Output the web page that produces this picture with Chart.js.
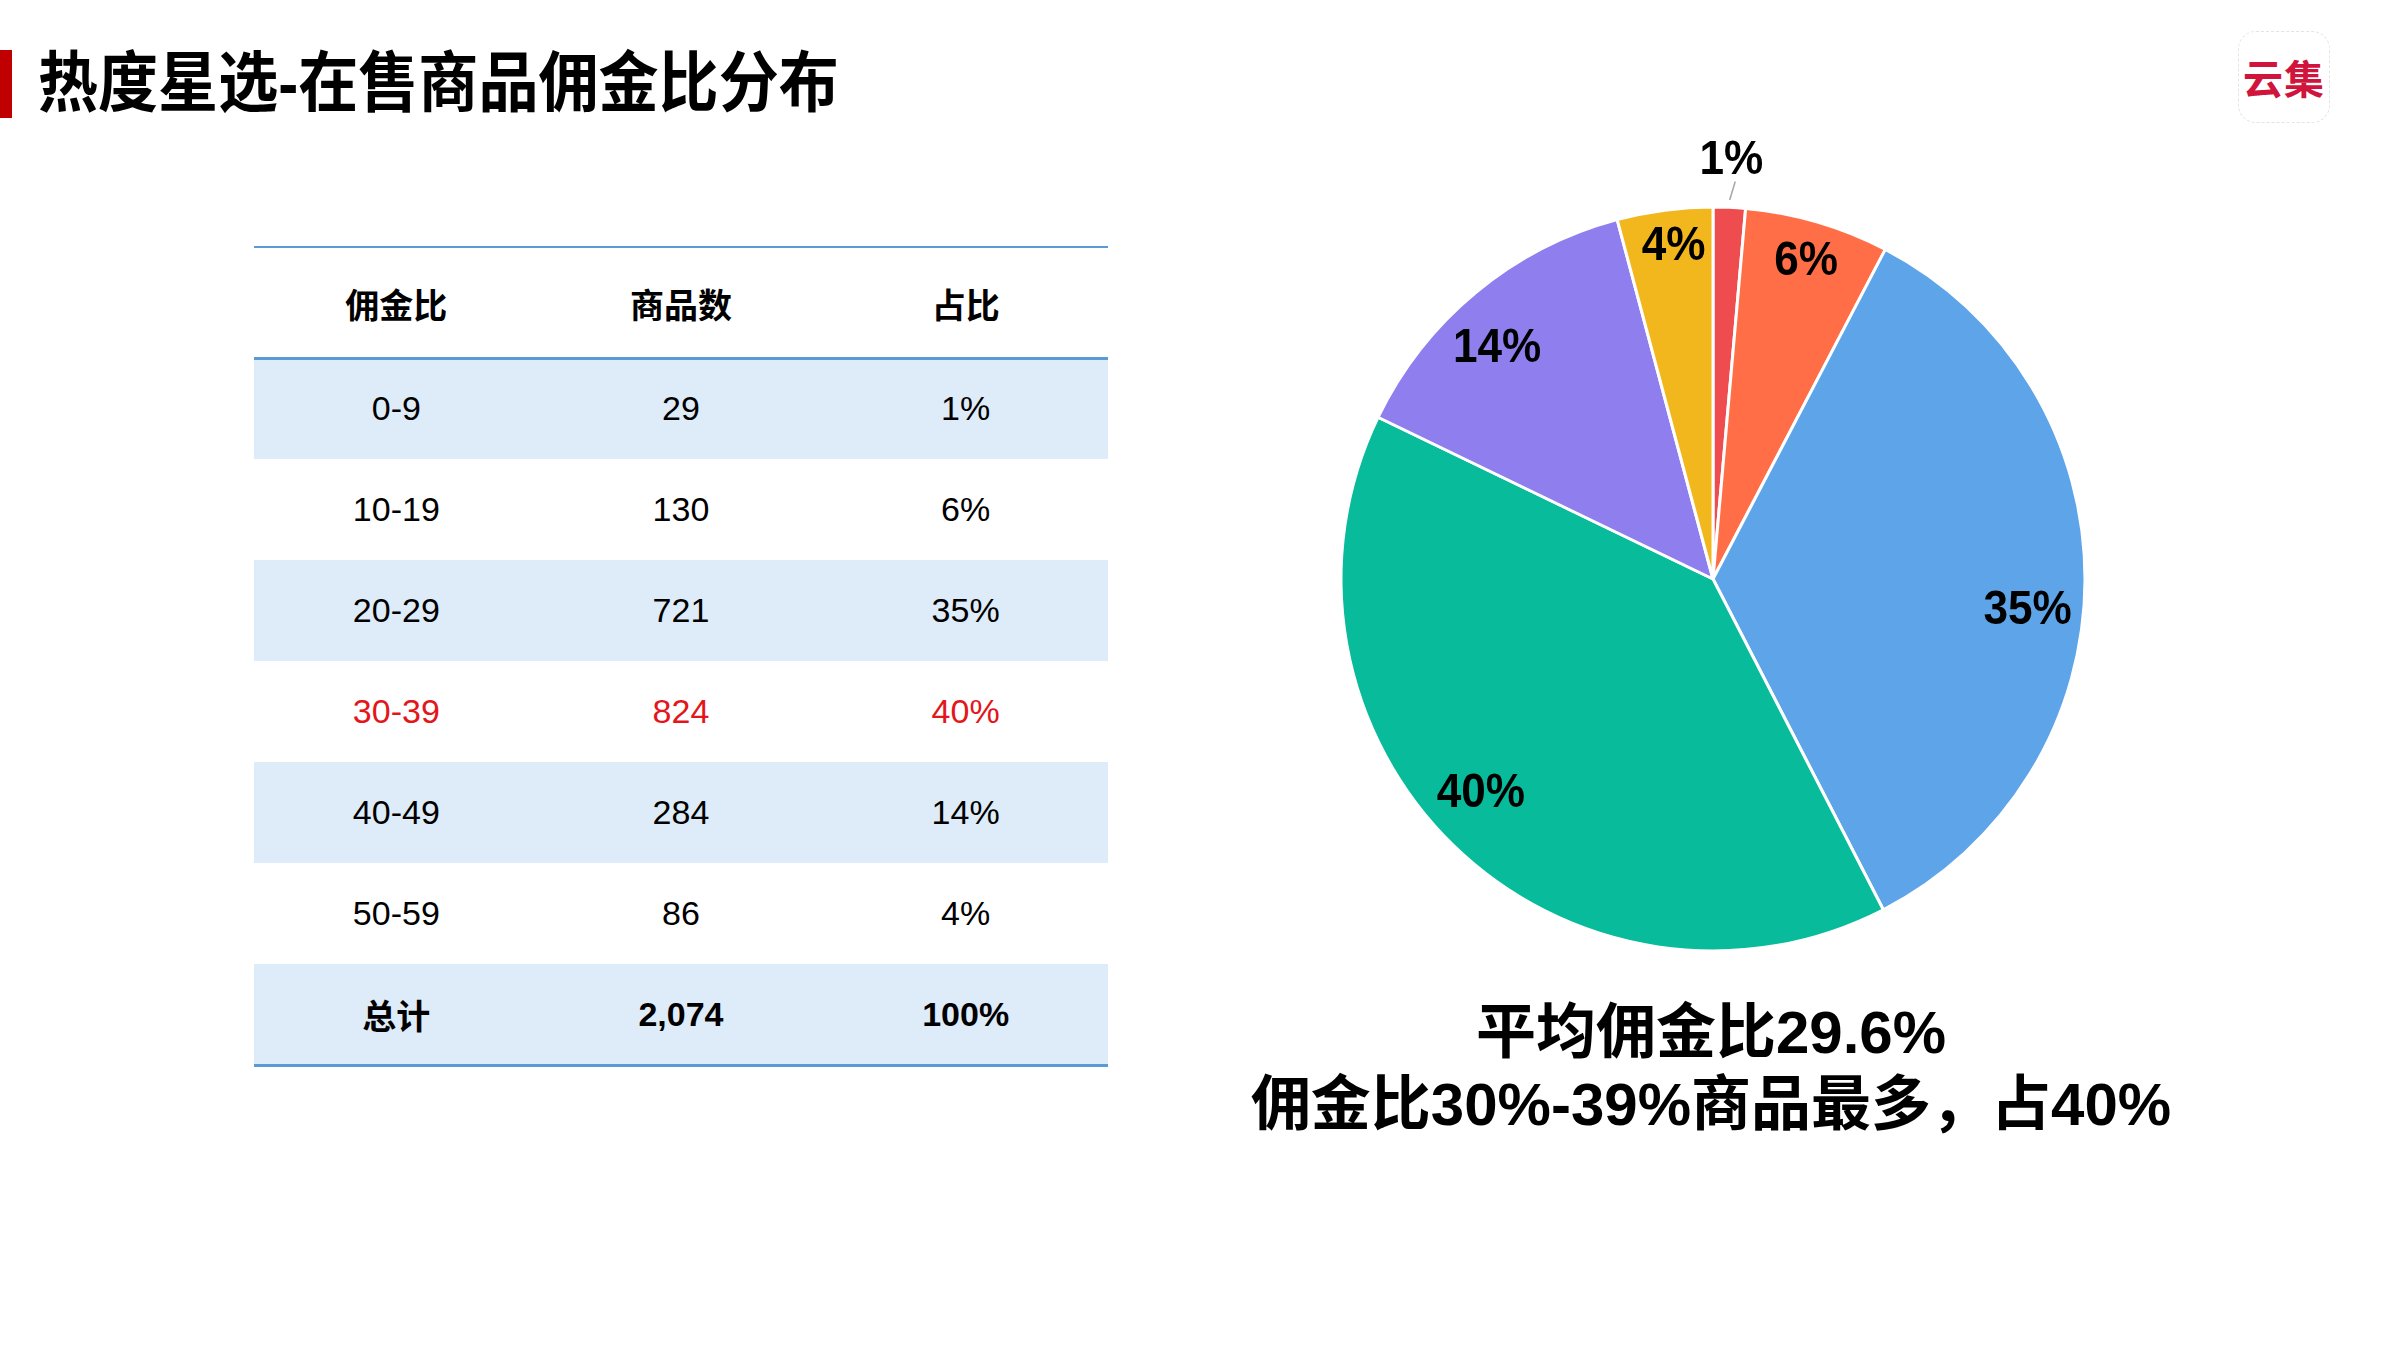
<!DOCTYPE html>
<html>
<head>
<meta charset="utf-8">
<script src="https://cdn.jsdelivr.net/npm/chart.js@4.4.1/dist/chart.umd.min.js"></script>
<style>
  body { margin: 0; width: 2400px; height: 1350px; background: #fff; position: relative; overflow: hidden;
         font-family: "Liberation Sans", Arial, "Noto Sans CJK SC", sans-serif; }
  .abs { position: absolute; }
  #bar { left: 0; top: 50px; width: 12px; height: 68px; background: #c00000; }
  #title { left: 38px; top: 50px; font-size: 66px; line-height: 66px; font-weight: bold; color: #000; white-space: nowrap;
           transform: scaleX(0.91); transform-origin: left center; }
  #logo { left: 2238px; top: 31px; width: 90px; height: 90px; border: 1px dashed #e4e4e4; border-radius: 18px;
          color: #d0143c; font-size: 40px; line-height: 90px; text-align: center; font-weight: bold; letter-spacing: 1px;
          font-family: "Noto Sans CJK SC", sans-serif; }
  #tbl { left: 254px; top: 246px; width: 854px; }
  .row { position: absolute; left: 0; width: 854px; display: flex; align-items: center; font-size: 34px; color: #000; }
  .row div { width: 284.67px; text-align: center; }
  .shade { background: #deebf8; }
  .hl { color: #e3161b; }
  .bold { font-weight: bold; }
  .note { left: 1211px; width: 1000px; text-align: center; font-size: 60px; line-height: 72px; font-weight: bold; color: #000; white-space: nowrap; }
  #pieBox { left: 1213px; top: 79px; width: 1000px; height: 1000px; }
</style>
</head>
<body>
<div id="bar" class="abs"></div>
<div id="title" class="abs">热度星选-在售商品佣金比分布</div>
<div id="logo" class="abs">云集</div>
<div id="tbl" class="abs"></div>
<div id="pieBox" class="abs"><canvas id="pie" width="1000" height="1000"></canvas></div>
<div class="abs note" style="top:997px">平均佣金比29.6%</div>
<div class="abs note" style="top:1069px">佣金比30%-39%商品最多，占40%</div>
<script>
// 数据
let headers = ["佣金比", "商品数", "占比"]
let ranges = ["0-9", "10-19", "20-29", "30-39", "40-49", "50-59"]
let counts = [29, 130, 721, 824, 284, 86]
let shares = ["1%", "6%", "35%", "40%", "14%", "4%"]
let totalLabel = ["总计", "2,074", "100%"]
let sliceColors = ["#ef4c4f", "#ff6e46", "#5ea4e8", "#07bb9b", "#8f7eee", "#f3b71e"]
let highlightRow = 3

// 表格
let tbl = document.getElementById("tbl")
let headH = 112, rowH = 101
function addRow(cells, top, h, cls) {
    let r = document.createElement("div")
    r.className = "row " + cls
    r.style.top = top + "px"
    r.style.height = h + "px"
    r.innerHTML = cells.map(c => `<div>${c}</div>`).join("")
    tbl.appendChild(r)
    return r
}
let head = addRow(headers, 0, headH, "bold")
head.style.borderTop = "2px solid #5b9bd5"
head.style.boxSizing = "border-box"
ranges.forEach((rg, i) => {
    let cls = (i % 2 == 0 ? "shade" : "") + (i == highlightRow ? " hl" : "")
    addRow([rg, counts[i], shares[i]], headH + i * rowH, rowH, cls)
})
addRow(totalLabel, headH + ranges.length * rowH, rowH, "shade bold")
// 表格线
let lines = [[headH - 1.5, 3], [headH + (ranges.length + 1) * rowH - 1.5, 3]]
lines.forEach(l => {
    let d = document.createElement("div")
    d.style.cssText = `position:absolute;left:0;width:854px;top:${l[0]}px;height:${l[1]}px;background:#5b9bd5`
    tbl.appendChild(d)
})

// 标签位置微调（角度偏移，度；半径比例）
let labelShift = [0, 0, 5.5, 3, -3.5, 0.7]
let labelRadius = [1.125, 0.89, 0.85, 0.85, 0.85, 0.9]

// 饼图标签插件
const pieLabels = {
    id: "pieLabels",
    afterDatasetsDraw(chart) {
        const ctx = chart.ctx
        const meta = chart.getDatasetMeta(0)
        const total = counts.reduce((a, b) => a + b, 0)
        ctx.save()
        ctx.font = "bold 49px 'Liberation Sans', Arial, sans-serif"
        ctx.fillStyle = "#000"
        ctx.textAlign = "center"
        ctx.textBaseline = "middle"
        meta.data.forEach((arc, i) => {
            const p = arc.getProps(["x", "y", "startAngle", "endAngle", "outerRadius"], true)
            const mid = (p.startAngle + p.endAngle) / 2 + labelShift[i] * Math.PI / 180
            const r = p.outerRadius
            const k = labelRadius[i]
            if (counts[i] / total < 0.02) {
                ctx.strokeStyle = "#a6a6a6"
                ctx.lineWidth = 1.5
                ctx.beginPath()
                ctx.moveTo(p.x + Math.cos(mid) * r * 1.02, p.y + Math.sin(mid) * r * 1.02)
                ctx.lineTo(p.x + Math.cos(mid + 0.012) * r * 1.07, p.y + Math.sin(mid + 0.012) * r * 1.07)
                ctx.stroke()
            }
            const lx = p.x + Math.cos(mid) * r * k
            const ly = p.y + Math.sin(mid) * r * k
            ctx.save()
            ctx.translate(lx, ly)
            ctx.scale(0.9, 1)
            ctx.fillText(shares[i], 0, 0)
            ctx.restore()
        })
        ctx.restore()
    }
}

new Chart(document.getElementById("pie").getContext("2d"), {
    type: "pie",
    data: {
        labels: ranges,
        datasets: [{
            data: counts,
            backgroundColor: sliceColors,
            borderColor: "#ffffff",
            borderWidth: 3
        }]
    },
    options: {
        responsive: false,
        animation: false,
        radius: 372,
        plugins: { legend: { display: false }, tooltip: { enabled: false }, title: { display: false } }
    },
    plugins: [pieLabels]
})
</script>
</body>
</html>
